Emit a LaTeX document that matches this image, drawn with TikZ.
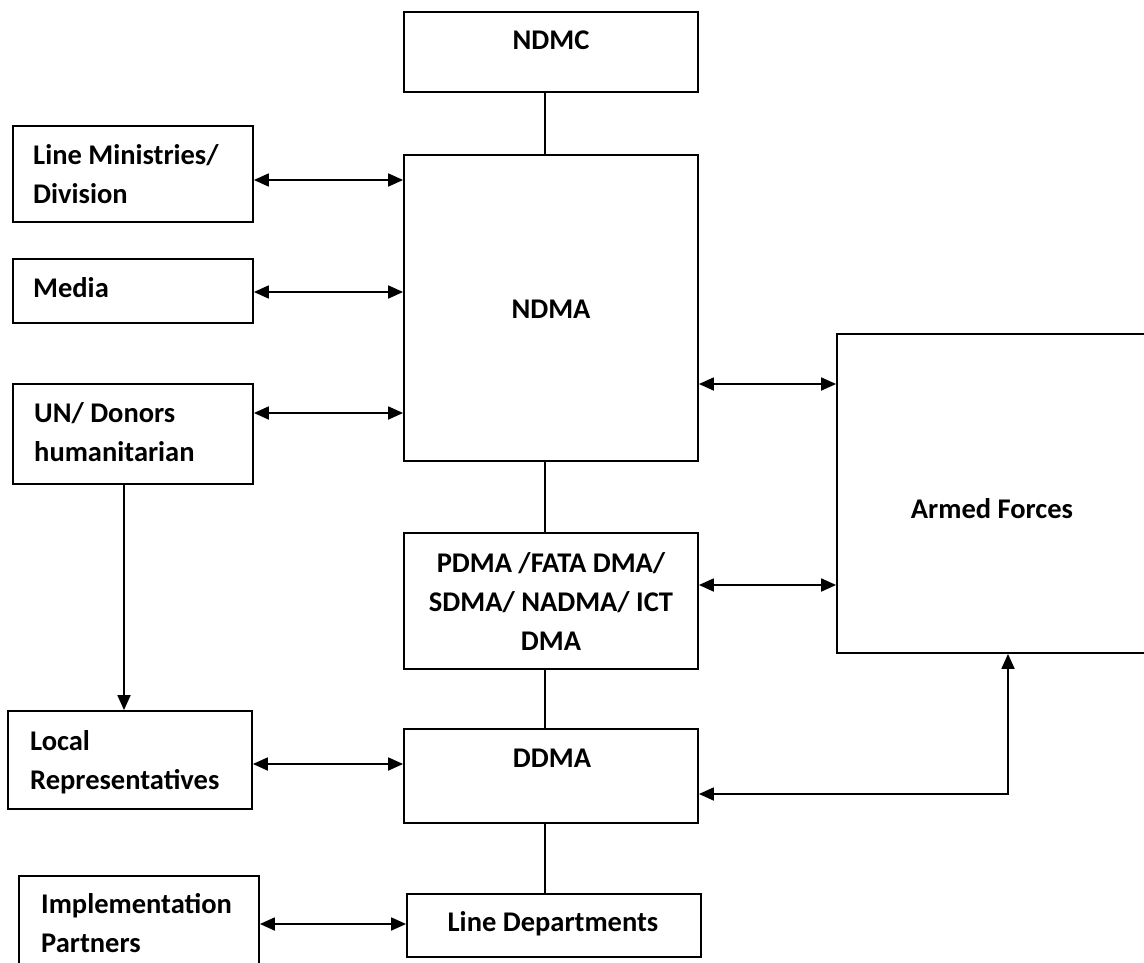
\documentclass[tikz,border=0pt]{standalone}
\usepackage{fontspec}
\setmainfont{Carlito}
\usetikzlibrary{arrows.meta}
\tikzset{
  box/.style={draw, line width=1.8pt, rectangle, inner sep=0pt},
  conn/.style={line width=1.8pt},
  bi/.style={line width=1.8pt, {Triangle[length=15pt,width=13pt]}-{Triangle[length=15pt,width=13pt]}},
  one/.style={line width=1.8pt, -{Triangle[length=15pt,width=13pt]}},
  lbl/.style={inner sep=0pt, anchor=base west, font=\fontsize{28.5}{39}\selectfont\bfseries},
  clbl/.style={inner sep=0pt, anchor=base, font=\fontsize{28.5}{39}\selectfont\bfseries}
}
\begin{document}
\begin{tikzpicture}[x=1pt,y=-1pt]
\useasboundingbox (0,0) rectangle (1144,963);
% boxes
\node[box, minimum width=294pt, minimum height=80pt]  (ndmc)  at (551,52) {};
\node[box, minimum width=294pt, minimum height=306pt] (ndma)  at (551,308) {};
\node[box, minimum width=240pt, minimum height=96pt]  (lm)    at (133,174) {};
\node[box, minimum width=240pt, minimum height=64pt]  (media) at (133,291) {};
\node[box, minimum width=240pt, minimum height=100pt] (un)    at (133,434) {};
\node[box, minimum width=310pt, minimum height=319pt] (armed) at (992,493.5) {};
\node[box, minimum width=294pt, minimum height=136pt] (pdma)  at (551,601) {};
\node[box, minimum width=244pt, minimum height=98pt]  (local) at (130,760) {};
\node[box, minimum width=294pt, minimum height=94pt]  (ddma)  at (551,776) {};
\node[box, minimum width=240pt, minimum height=114pt] (impl)  at (139,933) {};
\node[box, minimum width=294pt, minimum height=63pt]  (ldep)  at (554,925.5) {};
% texts
\node[clbl] (ndmc-t) at (551,50) {NDMC};
\node[clbl] (ndma-t) at (551,318) {NDMA};
\node[lbl] (lm-t) at (33,165) {\begin{tabular}[t]{@{}l@{}}Line Ministries/\\Division\end{tabular}};
\node[lbl] (media-t) at (33,297) {Media};
\node[lbl] (un-t) at (34,422) {\begin{tabular}[t]{@{}l@{}}UN/ Donors\\humanitarian\end{tabular}};
\node[clbl] (armed-t) at (992,518) {Armed Forces};
\node[clbl] (pdma-t) at (551,572) {\begin{tabular}[t]{@{}c@{}}PDMA /FATA DMA/\\SDMA/ NADMA/ ICT\\DMA\end{tabular}};
\node[lbl] (local-t) at (30,750) {\begin{tabular}[t]{@{}l@{}}Local\\Representatives\end{tabular}};
\node[clbl] (ddma-t) at (552,767) {DDMA};
\node[lbl] (impl-t) at (41,913) {\begin{tabular}[t]{@{}l@{}}Implementation\\Partners\end{tabular}};
\node[clbl] (ldep-t) at (553,931) {Line Departments};
% vertical spine
\coordinate (vx) at (545,0);
\draw[conn] (ndmc.south -| vx) -- (ndma.north -| vx);
\draw[conn] (ndma.south -| vx) -- (pdma.north -| vx);
\draw[conn] (pdma.south -| vx) -- (ddma.north -| vx);
\draw[conn] (ddma.south -| vx) -- (ldep.north -| vx);
% horizontal links
\draw[bi] (lm.east |- 0,180) -- (ndma.west |- 0,180);
\draw[bi] (media.east |- 0,292) -- (ndma.west |- 0,292);
\draw[bi] (un.east |- 0,413) -- (ndma.west |- 0,413);
\draw[bi] (ndma.east |- 0,384) -- (armed.west |- 0,384);
\draw[bi] (pdma.east |- 0,585) -- (armed.west |- 0,585);
\draw[bi] (local.east |- 0,764) -- (ddma.west |- 0,764);
\draw[bi] (impl.east |- 0,924) -- (ldep.west |- 0,924);
\coordinate (corner) at (1008,794);
\draw[bi] (armed.south -| corner) -- (corner) -- (ddma.east |- corner);
\coordinate (ux) at (124,0);
\draw[one] (un.south -| ux) -- (local.north -| ux);
\end{tikzpicture}
\end{document}
